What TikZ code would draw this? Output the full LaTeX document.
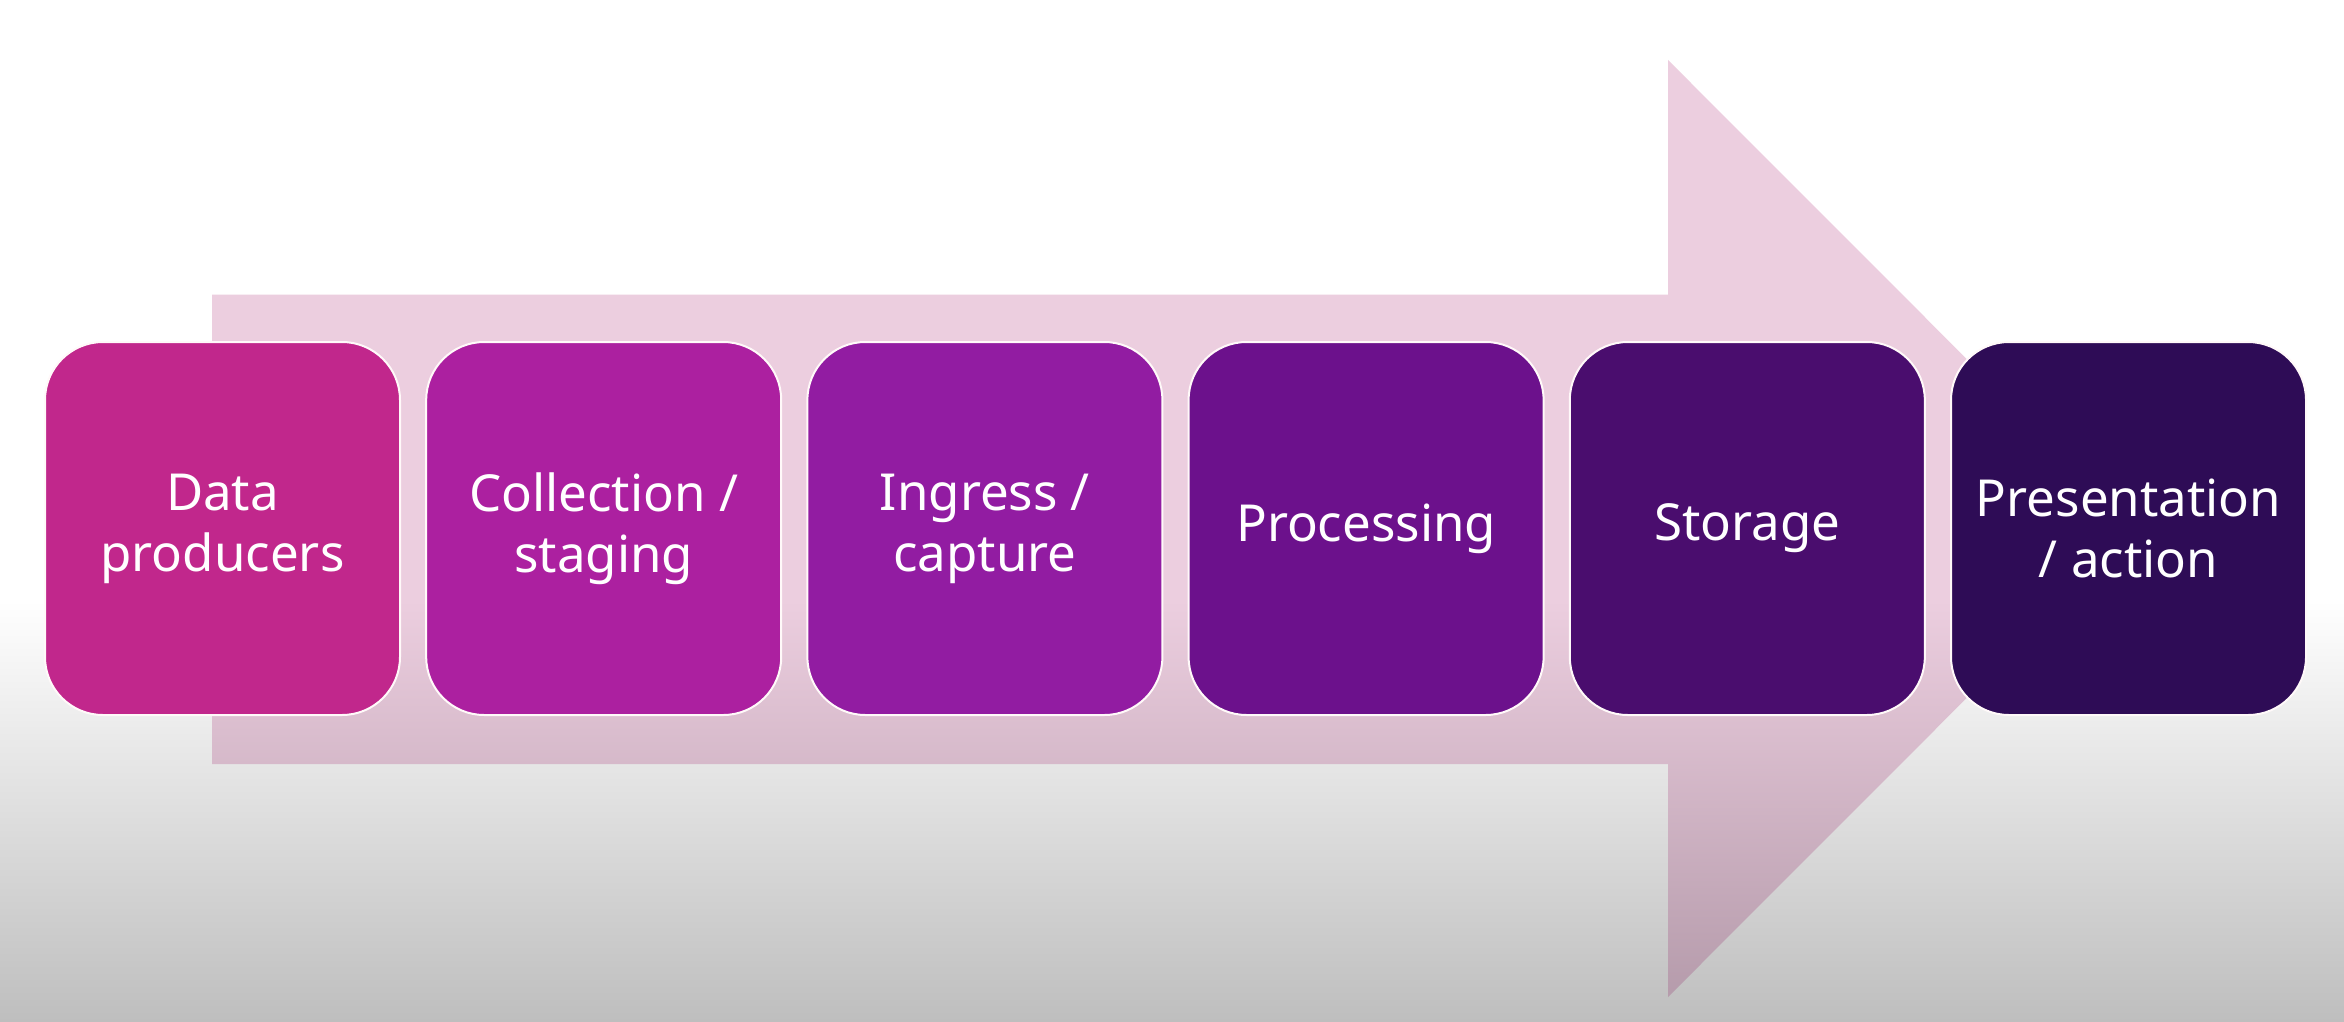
\documentclass[tikz,border=0pt]{standalone}
\usepackage{fontspec}
\setmainfont{Noto Sans}
\definecolor{bgGray}{RGB}{190,190,190}
\definecolor{arrowPink}{RGB}{236,206,223}
\definecolor{arrowDark}{RGB}{178,152,168}
\definecolor{stageA}{RGB}{193,39,140}
\definecolor{stageB}{RGB}{172,32,160}
\definecolor{stageC}{RGB}{146,28,162}
\definecolor{stageD}{RGB}{108,17,140}
\definecolor{stageE}{RGB}{74,13,110}
\definecolor{stageF}{RGB}{46,12,86}

\begin{document}
\begin{tikzpicture}[x=0.5pt,y=-0.5pt]
    \tikzstyle{stage}=[rounded corners=29pt, draw=white!90!pink, line width=1pt,
        minimum width=177.5pt, minimum height=186.5pt, inner sep=0pt,
        text=white, align=center, font=\fontsize{25.5}{30.5}\selectfont]

    \useasboundingbox (0,0) rectangle (2344,1022);

    % Background: white fading to grey at the bottom
    \fill[white] (0,0) rectangle (2344,600);
    \shade[top color=white, bottom color=bgGray] (0,600) rectangle (2344,1022);

    % Big block arrow behind the stages
    \begin{scope}
        \clip (212,294.5) -- (1668,294.5) -- (1668,60) -- (2136,528.5)
            -- (1668,997) -- (1668,764) -- (212,764) -- cycle;
        \fill[arrowPink] (0,0) rectangle (2344,600);
        \shade[top color=arrowPink, bottom color=arrowDark] (0,600) rectangle (2344,1022);
    \end{scope}

    % Draw the stage boxes
    \foreach \name/\col/\txt [count=\i from 0] in
        {1/stageA/{Data\\producers}, 2/stageB/{Collection /\\staging},
         3/stageC/{Ingress /\\capture}, 4/stageD/{Processing},
         5/stageE/{Storage}, 6/stageF/{Presentation\\/ action}}
        \node[stage, fill=\col] (S-\name) at (222.5+381.2*\i,528.5) {\txt};

\end{tikzpicture}
\end{document}
